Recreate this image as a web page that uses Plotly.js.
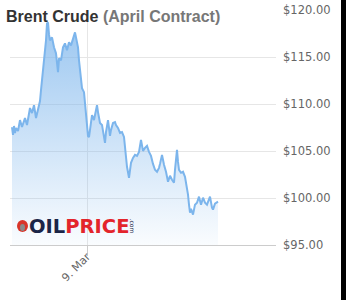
<!DOCTYPE html>
<html>
<head>
<meta charset="utf-8">
<script src="https://cdn.plot.ly/plotly-3.0.1.min.js"></script>
<style>
html,body{margin:0;padding:0;background:#000;}
#chart{width:341px;height:300px;background:#fff;}
</style>
</head>
<body>
<div id="chart"></div>
<script>
// Brent Crude (April Contract) intraday prices
const times = [
 '2022-03-08 16:30','2022-03-08 16:36','2022-03-08 16:42','2022-03-08 16:48','2022-03-08 16:54',
 '2022-03-08 17:06','2022-03-08 17:18','2022-03-08 17:30','2022-03-08 17:36','2022-03-08 17:48',
 '2022-03-08 18:00','2022-03-08 18:12','2022-03-08 18:18','2022-03-08 18:30','2022-03-08 18:42',
 '2022-03-08 18:54','2022-03-08 19:06','2022-03-08 19:18','2022-03-08 19:24','2022-03-08 19:30',
 '2022-03-08 19:36','2022-03-08 19:42','2022-03-08 19:48','2022-03-08 19:54','2022-03-08 20:00',
 '2022-03-08 20:06','2022-03-08 20:12','2022-03-08 20:18','2022-03-08 20:30','2022-03-08 20:42',
 '2022-03-08 20:54','2022-03-08 21:00','2022-03-08 21:06','2022-03-08 21:12','2022-03-08 21:24',
 '2022-03-08 21:36','2022-03-08 21:48','2022-03-08 22:00','2022-03-08 22:12','2022-03-08 22:24',
 '2022-03-08 22:36','2022-03-08 22:48','2022-03-08 22:54','2022-03-08 23:06','2022-03-08 23:12',
 '2022-03-08 23:18','2022-03-08 23:24','2022-03-08 23:30','2022-03-08 23:42','2022-03-08 23:54',
 '2022-03-09 00:00','2022-03-09 00:06','2022-03-09 00:12','2022-03-09 00:18','2022-03-09 00:30',
 '2022-03-09 00:42','2022-03-09 00:54','2022-03-09 01:00','2022-03-09 01:06','2022-03-09 01:18',
 '2022-03-09 01:30','2022-03-09 01:42','2022-03-09 01:48','2022-03-09 01:54','2022-03-09 02:06',
 '2022-03-09 02:18','2022-03-09 02:24','2022-03-09 02:36','2022-03-09 02:48','2022-03-09 02:54',
 '2022-03-09 03:06','2022-03-09 03:18','2022-03-09 03:30','2022-03-09 03:42','2022-03-09 03:48',
 '2022-03-09 03:54','2022-03-09 04:00','2022-03-09 04:12','2022-03-09 04:24','2022-03-09 04:36',
 '2022-03-09 04:48','2022-03-09 05:00','2022-03-09 05:12','2022-03-09 05:24','2022-03-09 05:30',
 '2022-03-09 05:36','2022-03-09 05:48','2022-03-09 06:00','2022-03-09 06:12','2022-03-09 06:24',
 '2022-03-09 06:36','2022-03-09 06:48','2022-03-09 07:00','2022-03-09 07:12','2022-03-09 07:18',
 '2022-03-09 07:30','2022-03-09 07:42','2022-03-09 07:54','2022-03-09 08:06','2022-03-09 08:18',
 '2022-03-09 08:30','2022-03-09 08:42','2022-03-09 08:48','2022-03-09 08:54','2022-03-09 09:00',
 '2022-03-09 09:06','2022-03-09 09:12','2022-03-09 09:24','2022-03-09 09:36','2022-03-09 09:48',
 '2022-03-09 10:00','2022-03-09 10:06','2022-03-09 10:12','2022-03-09 10:18','2022-03-09 10:24',
 '2022-03-09 10:36','2022-03-09 10:48','2022-03-09 11:00','2022-03-09 11:12','2022-03-09 11:24',
 '2022-03-09 11:36','2022-03-09 11:48','2022-03-09 12:00','2022-03-09 12:12','2022-03-09 12:18',
 '2022-03-09 12:30','2022-03-09 12:36','2022-03-09 12:48','2022-03-09 13:00','2022-03-09 13:06'
];
const prices = [
 107.55,106.71,107.66,106.92,107.45,
 107.13,108.29,107.55,107.87,108.50,
 107.77,108.93,109.57,109.04,109.88,
 108.50,109.57,110.31,111.47,112.53,
 113.59,114.33,114.97,116.77,118.57,
 118.68,117.40,116.77,117.09,116.03,
 115.39,114.01,113.38,114.86,114.65,
 116.03,116.45,115.71,116.56,116.24,
 117.09,117.62,117.09,116.03,114.65,
 113.59,112.31,111.68,111.26,109.35,
 107.77,106.60,106.49,107.24,108.82,
 108.29,109.14,109.88,109.14,107.98,
 107.77,106.71,105.86,107.02,108.29,
 106.60,107.24,107.98,108.08,107.77,
 107.45,106.92,107.02,106.49,105.12,
 104.06,103.32,102.15,103.74,104.27,
 104.59,104.48,104.90,106.18,105.65,
 105.01,105.33,105.54,104.90,104.48,
 103.63,103.00,102.79,103.21,103.63,
 104.59,103.53,102.79,101.73,102.36,
 101.94,101.62,103.00,104.59,105.12,
 103.84,103.00,102.68,102.79,102.26,
 101.09,100.35,99.29,98.44,98.86,
 98.23,99.29,99.50,100.14,99.29,
 100.03,99.50,99.29,99.93,100.14,
 98.97,98.76,99.40,99.61,99.61
];
const xTickVals = ['2022-03-09 00:00'];
const xTickText = ['9. Mar'];
const yTickVals = [95, 100, 105, 110, 115, 120];
const yTickText = ['$95.00', '$100.00', '$105.00', '$110.00', '$115.00', '$120.00'];

const trace = {
  type: 'scatter',
  mode: 'lines',
  x: times,
  y: prices,
  line: {color: '#7cb5ec', width: 2},
  fill: 'tozeroy',
  fillgradient: {
    type: 'vertical',
    start: 95,
    stop: 120,
    colorscale: [[0, 'rgba(124,181,236,0.04)'], [1, 'rgba(124,181,236,0.8)']]
  },
  hoverinfo: 'skip'
};

const layout = {
  width: 341,
  height: 300,
  margin: {l: 10, r: 65, t: 9.5, b: 54.5},
  paper_bgcolor: '#ffffff',
  plot_bgcolor: '#ffffff',
  showlegend: false,
  title: {
    text: "<b>Brent Crude</b> <b><span style='color:#777777'>(April Contract)</span></b>",
    font: {family: 'Liberation Sans, Arial, sans-serif', size: 16, color: '#333333'},
    x: 6/341, xref: 'container', xanchor: 'left',
    y: 1 - 16/300, yref: 'container', yanchor: 'middle'
  },
  xaxis: {
    type: 'date',
    range: ['2022-03-08 16:18', '2022-03-09 18:54'],
    tickvals: xTickVals,
    ticktext: xTickText,
    tickangle: -45,
    showgrid: true,
    gridcolor: '#e6e6e6',
    gridwidth: 1,
    showline: true,
    linecolor: '#cccccc',
    linewidth: 1,
    ticks: 'outside',
    ticklen: 10,
    tickcolor: '#cccccc',
    ticklabelstandoff: -10,
    tickfont: {family: 'DejaVu Sans, sans-serif', size: 11, color: '#666666'},
    zeroline: false,
    fixedrange: true
  },
  yaxis: {
    side: 'right',
    range: [95, 120],
    tickvals: yTickVals,
    ticktext: yTickText,
    showgrid: true,
    gridcolor: '#e6e6e6',
    gridwidth: 1,
    zeroline: false,
    showline: false,
    ticks: '',
    ticklabelstandoff: 6,
    tickfont: {family: 'DejaVu Sans, sans-serif', size: 11.5, color: '#666666'},
    fixedrange: true
  },
  shapes: [
    {type: 'circle', xref: 'paper', yref: 'paper',
     x0: 7/266, x1: 18/266, y0: 13/236, y1: 25/236,
     fillcolor: '#d8352a', line: {width: 0}},
    {type: 'circle', xref: 'paper', yref: 'paper',
     x0: 10/266, x1: 15/266, y0: 14/236, y1: 21/236,
     fillcolor: '#8a8a8a', line: {width: 0}}
  ],
  annotations: [
    {text: "<b><span style='color:#1b2547'>OIL</span><span style='color:#e3242b'>PRICE</span></b>",
     xref: 'paper', yref: 'paper', x: 17/266, y: 19/236,
     xanchor: 'left', yanchor: 'middle', showarrow: false,
     font: {family: 'DejaVu Sans, sans-serif', size: 19.5}},
    {text: '.com', textangle: 90,
     xref: 'paper', yref: 'paper', x: 122.5/266, y: 19/236,
     xanchor: 'center', yanchor: 'middle', showarrow: false,
     font: {family: 'DejaVu Sans, sans-serif', size: 6, color: '#1b2547'}}
  ]
};

Plotly.newPlot('chart', [trace], layout, {displayModeBar: false, staticPlot: true});
</script>
</body>
</html>
